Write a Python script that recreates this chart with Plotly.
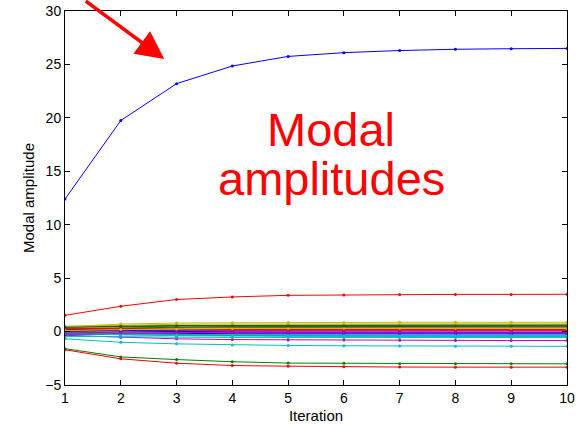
import plotly.graph_objects as go

iterations = [1, 2, 3, 4, 5, 6, 7, 8, 9, 10]

x_tick_vals = [1, 2, 3, 4, 5, 6, 7, 8, 9, 10]
y_tick_vals = [-5, 0, 5, 10, 15, 20, 25, 30]

# Modal amplitude histories (one list per mode)
amp01 = [12.4, 19.75, 23.2, 24.85, 25.75, 26.1, 26.3, 26.42, 26.47, 26.5]
amp02 = [-1.6, -2.37, -2.62, -2.82, -2.95, -2.97, -3.0, -3.0, -3.02, -3.02]
amp03 = [1.52, 2.37, 3.0, 3.24, 3.39, 3.43, 3.46, 3.48, 3.48, 3.49]
amp04 = [-0.68, -1.0, -1.15, -1.25, -1.3, -1.33, -1.35, -1.37, -1.37, -1.38]
amp05 = [-0.35, -0.55, -0.68, -0.75, -0.78, -0.8, -0.82, -0.83, -0.84, -0.84]
amp06 = [0.45, 0.7, 0.8, 0.83, 0.85, 0.86, 0.87, 0.87, 0.87, 0.87]
amp07 = [0.3, 0.45, 0.55, 0.58, 0.6, 0.6, 0.6, 0.6, 0.6, 0.6]
amp08 = [-0.1, -0.15, -0.18, -0.2, -0.2, -0.2, -0.2, -0.2, -0.2, -0.2]
amp09 = [0.35, 0.5, 0.55, 0.58, 0.6, 0.61, 0.62, 0.62, 0.62, 0.62]
amp10 = [-1.7, -2.55, -2.96, -3.18, -3.24, -3.3, -3.32, -3.33, -3.33, -3.33]
amp11 = [-0.45, -0.5, -0.52, -0.55, -0.55, -0.55, -0.55, -0.55, -0.55, -0.55]
amp12 = [0.1, 0.05, 0.0, -0.02, -0.03, -0.03, -0.03, -0.03, -0.03, -0.03]
amp13 = [0.5, 0.6, 0.68, 0.7, 0.72, 0.72, 0.72, 0.72, 0.72, 0.72]
amp14 = [0.2, 0.3, 0.35, 0.38, 0.4, 0.4, 0.4, 0.4, 0.4, 0.4]
amp15 = [-0.25, -0.3, -0.32, -0.33, -0.33, -0.33, -0.33, -0.33, -0.33, -0.33]
amp16 = [0.0, -0.2, -0.3, -0.38, -0.4, -0.42, -0.42, -0.43, -0.43, -0.43]
amp17 = [0.2, 0.15, 0.12, 0.12, 0.12, 0.12, 0.12, 0.12, 0.12, 0.12]
amp18 = [-0.2, -0.3, -0.38, -0.42, -0.45, -0.46, -0.47, -0.47, -0.47, -0.47]
amp19 = [0.05, 0.1, 0.12, 0.13, 0.14, 0.14, 0.14, 0.14, 0.14, 0.14]
amp20 = [0.35, 0.4, 0.42, 0.43, 0.44, 0.44, 0.44, 0.44, 0.44, 0.44]
amp21 = [0.0, 0.1, 0.15, 0.18, 0.2, 0.2, 0.21, 0.21, 0.21, 0.21]
amp22 = [0.15, 0.05, 0.0, -0.05, -0.07, -0.08, -0.08, -0.08, -0.08, -0.08]
amp23 = [0.25, 0.35, 0.4, 0.45, 0.47, 0.48, 0.49, 0.5, 0.5, 0.5]
amp24 = [0.3, 0.25, 0.22, 0.2, 0.2, 0.2, 0.2, 0.2, 0.2, 0.2]
amp25 = [-0.1, -0.25, -0.3, -0.33, -0.35, -0.36, -0.37, -0.37, -0.37, -0.37]
amp26 = [-0.15, -0.1, -0.08, -0.07, -0.07, -0.07, -0.07, -0.07, -0.07, -0.07]
amp27 = [0.1, 0.2, 0.25, 0.28, 0.3, 0.3, 0.3, 0.3, 0.3, 0.3]
amp28 = [0.4, 0.5, 0.52, 0.53, 0.53, 0.53, 0.53, 0.53, 0.53, 0.53]

modes = [amp01, amp02, amp03, amp04, amp05, amp06, amp07, amp08, amp09, amp10,
         amp11, amp12, amp13, amp14, amp15, amp16, amp17, amp18, amp19, amp20,
         amp21, amp22, amp23, amp24, amp25, amp26, amp27, amp28]

# MATLAB classic colour order
color_order = ["rgb(0,0,255)", "rgb(0,128,0)", "rgb(255,0,0)", "rgb(0,191,191)",
               "rgb(191,0,191)", "rgb(191,191,0)", "rgb(64,64,64)"]

fig = go.Figure()
for i, vals in enumerate(modes):
    c = color_order[i % len(color_order)]
    fig.add_trace(go.Scatter(
        x=iterations, y=vals, mode="lines+markers",
        line=dict(color=c, width=1),
        marker=dict(color=c, size=3),
        showlegend=False, hoverinfo="skip",
    ))

axis_common = dict(
    showline=True, linecolor="black", linewidth=1, mirror="ticks",
    ticks="inside", ticklen=5, tickcolor="black", showgrid=False,
    zeroline=False, automargin=False,
    tickfont=dict(family="Liberation Sans, Arial", size=14, color="black"),
)

title_font = dict(family="Liberation Sans, Arial", size=15, color="black")
fig.update_xaxes(range=[1, 10], tickmode="array", tickvals=x_tick_vals,
                 title=dict(text="Iteration", font=title_font, standoff=5),
                 **axis_common)
fig.update_yaxes(range=[-5, 30], tickmode="array", tickvals=y_tick_vals,
                 title=dict(text="Modal amplitude", font=title_font, standoff=6),
                 **axis_common)

text_font = dict(family="Liberation Sans, Arial", size=47, color="red")
for txt, yy in [("Modal", 0.682), ("amplitudes", 0.553)]:
    fig.add_annotation(x=0.53, y=yy, xref="paper", yref="paper", text=txt,
                       showarrow=False, font=text_font, xanchor="center",
                       yanchor="middle")

# red arrow pointing at the dominant mode
fig.add_annotation(x=2.78, y=25.5, xref="x", yref="y", text="",
                   showarrow=True, arrowhead=2, arrowsize=1.6, arrowwidth=3.5,
                   arrowcolor="red", ax=-80, ay=-72, axref="pixel", ayref="pixel")

fig.update_layout(
    width=585, height=424,
    margin=dict(l=65, r=18, t=11, b=39),
    paper_bgcolor="white", plot_bgcolor="white",
)

fig.write_html("out.html")
